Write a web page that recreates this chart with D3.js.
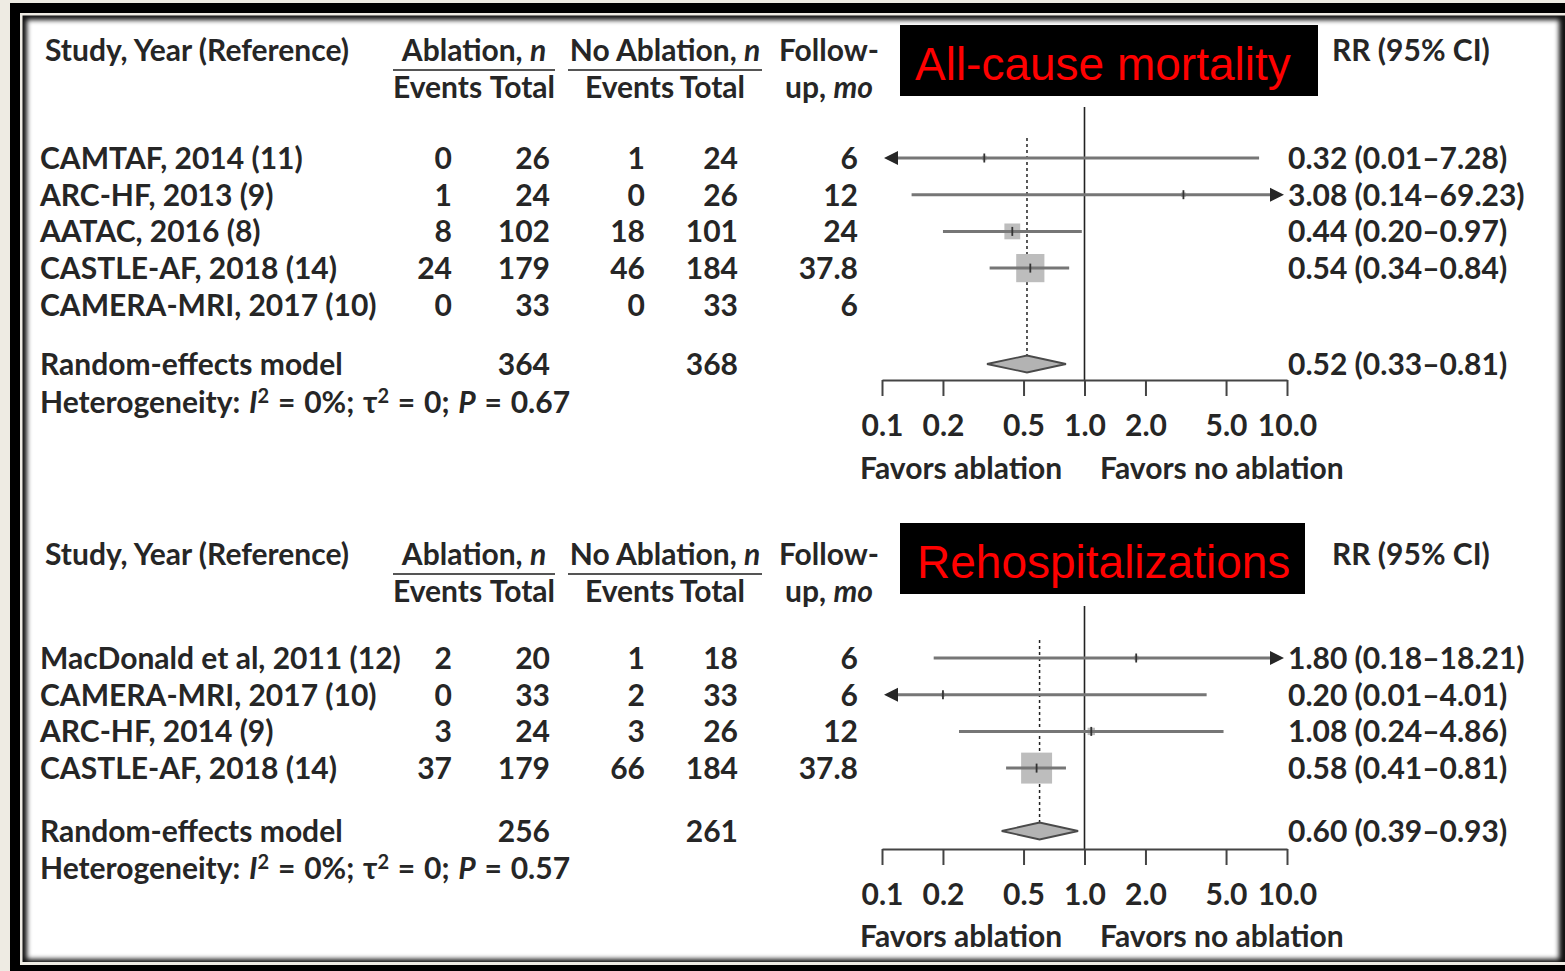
<!DOCTYPE html>
<html><head><meta charset="utf-8">
<script src="https://cdn.jsdelivr.net/npm/d3@7"></script>
<style>html,body{margin:0;padding:0;background:#eeebe3;overflow:hidden}</style>
</head><body><svg id="c" width="1565" height="971"></svg>
<script>
// ---------- DATA ----------
const ticks = [0.1, 0.2, 0.5, 1, 2, 5, 10];

// Panel 1: All-cause mortality
const mortTitle = "All-cause mortality";
const mortStudies = ["CAMTAF, 2014 (11)", "ARC-HF, 2013 (9)", "AATAC, 2016 (8)", "CASTLE-AF, 2018 (14)", "CAMERA-MRI, 2017 (10)"];
const mortAblEvents = [0, 1, 8, 24, 0];
const mortAblTotal = [26, 24, 102, 179, 33];
const mortNoEvents = [1, 0, 18, 46, 0];
const mortNoTotal = [24, 26, 101, 184, 33];
const mortFollow = ["6", "12", "24", "37.8", "6"];
const mortRR = [0.32, 3.08, 0.44, 0.54, null];
const mortLow = [0.01, 0.14, 0.20, 0.34, null];
const mortHigh = [7.28, 69.23, 0.97, 0.84, null];
const mortWeight = [2, 2, 23, 73, 0];
const mortSummary = {rr: 0.52, low: 0.33, high: 0.81, ablTotal: 364, noTotal: 368, i2: "0%", tau2: "0", p: "0.67"};

// Panel 2: Rehospitalizations
const rehTitle = "Rehospitalizations";
const rehStudies = ["MacDonald et al, 2011 (12)", "CAMERA-MRI, 2017 (10)", "ARC-HF, 2014 (9)", "CASTLE-AF, 2018 (14)"];
const rehAblEvents = [2, 0, 3, 37];
const rehAblTotal = [20, 33, 24, 179];
const rehNoEvents = [1, 2, 3, 66];
const rehNoTotal = [18, 33, 26, 184];
const rehFollow = ["6", "6", "12", "37.8"];
const rehRR = [1.80, 0.20, 1.08, 0.58];
const rehLow = [0.18, 0.01, 0.24, 0.41];
const rehHigh = [18.21, 4.01, 4.86, 0.81];
const rehWeight = [2, 1.5, 5, 88];
const rehSummary = {rr: 0.60, low: 0.39, high: 0.93, ablTotal: 256, noTotal: 261, i2: "0%", tau2: "0", p: "0.57"};

// ---------- DRAW ----------
const svg = d3.select("#c");
const FONT = "Lato, 'Open Sans', sans-serif";
const TXT = "#262626";
const FS = 30;

// frame
const defs = svg.append("defs");
defs.append("filter").attr("id", "soft").attr("x", "-5%").attr("y", "-5%").attr("width", "110%").attr("height", "110%")
  .append("feGaussianBlur").attr("stdDeviation", 2.6);
svg.append("rect").attr("x", 0).attr("y", 0).attr("width", 1565).attr("height", 971).attr("fill", "#eeebe3");
svg.append("rect").attr("x", 10).attr("y", 3).attr("width", 1600).attr("height", 1000).attr("fill", "#000");
svg.append("rect").attr("x", 20).attr("y", 13).attr("width", 1600).attr("height", 952).attr("fill", "#eeebe3");
svg.append("rect").attr("x", 22.5).attr("y", 15.5).attr("width", 1600).attr("height", 946.5).attr("fill", "#111");
svg.append("rect").attr("x", 27).attr("y", 20).attr("width", 1532).attr("height", 939).attr("fill", "#fff").attr("filter", "url(#soft)");

const x = d3.scaleLog().domain([0.1, 10]).range([882, 1287]);
const f2 = d3.format(".2f");
const rrLabel = (r, l, h) => `${f2(r)} (${f2(l)}\u2013${f2(h)})`;

function text(g, str, xx, yy, anchor) {
  return g.append("text").attr("x", xx).attr("y", yy).attr("text-anchor", anchor || "start")
    .attr("font-family", FONT).attr("font-weight", 700).attr("font-size", FS).attr("fill", TXT).text(str);
}

function panel(cfg) {
  const g = svg.append("g");
  const B = 10.8; // centre -> baseline
  // headers
  text(g, "Study, Year (Reference)", 45, cfg.h1 + B);
  const ab = text(g, "Ablation, ", 474, cfg.h1 + B, "middle");
  ab.append("tspan").attr("font-style", "italic").text("n");
  const nab = text(g, "No Ablation, ", 665, cfg.h1 + B, "middle");
  nab.append("tspan").attr("font-style", "italic").text("n");
  text(g, "Follow-", 829, cfg.h1 + B, "middle");
  text(g, "RR (95% CI)", 1332, cfg.h1 + B);
  g.append("line").attr("x1", 393).attr("x2", 555).attr("y1", cfg.h1 + 20).attr("y2", cfg.h1 + 20).attr("stroke", "#555").attr("stroke-width", 2);
  g.append("line").attr("x1", 568).attr("x2", 762).attr("y1", cfg.h1 + 20).attr("y2", cfg.h1 + 20).attr("stroke", "#555").attr("stroke-width", 2);
  text(g, "Events", 393, cfg.h2 + B);
  text(g, "Total", 555, cfg.h2 + B, "end");
  text(g, "Events", 585, cfg.h2 + B);
  text(g, "Total", 745, cfg.h2 + B, "end");
  const up = text(g, "up, ", 829, cfg.h2 + B, "middle");
  up.append("tspan").attr("font-style", "italic").text("mo");

  // title box
  g.append("rect").attr("x", 900).attr("y", cfg.boxY).attr("width", cfg.boxW).attr("height", 71).attr("fill", "#000");
  g.append("text").attr("x", cfg.titleX).attr("y", cfg.boxY + 55).attr("font-family", "'Liberation Sans', Arial, sans-serif")
    .attr("font-size", 46).attr("fill", "#ff0000").text(cfg.title);

  const n = cfg.studies.length;
  const rowY = i => cfg.r0 + i * 36.7;

  // reference lines
  g.append("line").attr("x1", x(1)).attr("x2", x(1)).attr("y1", cfg.vTop).attr("y2", cfg.axisY).attr("stroke", "#222").attr("stroke-width", 1.6);
  g.append("line").attr("x1", x(cfg.sum.rr)).attr("x2", x(cfg.sum.rr)).attr("y1", cfg.dTop).attr("y2", cfg.sumY - 8).attr("stroke", "#222").attr("stroke-width", 1.5).attr("stroke-dasharray", "3,3");

  for (let i = 0; i < n; i++) {
    const y = rowY(i);
    text(g, cfg.studies[i], 40, y + B);
    text(g, cfg.ablE[i], 452, y + B, "end");
    text(g, cfg.ablT[i], 550, y + B, "end");
    text(g, cfg.noE[i], 645, y + B, "end");
    text(g, cfg.noT[i], 738, y + B, "end");
    text(g, cfg.follow[i], 858, y + B, "end");
    const rr = cfg.rr[i];
    if (rr == null) continue;
    const lo = Math.max(cfg.low[i], 0.1), hi = Math.min(cfg.high[i], 10);
    const s = 3.3 * Math.sqrt(cfg.w[i]);
    g.append("rect").attr("x", x(rr) - s / 2).attr("y", y - s / 2).attr("width", s).attr("height", s).attr("fill", "#bdbdbd");
    g.append("line").attr("x1", x(lo) + (cfg.low[i] < 0.1 ? 8 : 0)).attr("x2", x(hi) - (cfg.high[i] > 10 ? 8 : 0))
      .attr("y1", y).attr("y2", y).attr("stroke", "#767676").attr("stroke-width", 3);
    g.append("line").attr("x1", x(rr)).attr("x2", x(rr)).attr("y1", y - 4.5).attr("y2", y + 4.5).attr("stroke", "#333").attr("stroke-width", 1.8);
    if (cfg.low[i] < 0.1) {
      const t = x(0.1) + 2;
      g.append("path").attr("d", `M${t},${y}L${t + 14},${y - 7}L${t + 14},${y + 7}Z`).attr("fill", "#262626");
    }
    if (cfg.high[i] > 10) {
      const t = x(10) - 3;
      g.append("path").attr("d", `M${t},${y}L${t - 14},${y - 7}L${t - 14},${y + 7}Z`).attr("fill", "#262626");
    }
    text(g, rrLabel(rr, cfg.low[i], cfg.high[i]), 1288, y + B);
  }

  // summary
  const sy = cfg.sumY, S = cfg.sum;
  text(g, "Random-effects model", 40, sy + B);
  text(g, S.ablTotal, 550, sy + B, "end");
  text(g, S.noTotal, 738, sy + B, "end");
  g.append("path").attr("d", `M${x(S.low)},${sy}L${x(S.rr)},${sy - 8.5}L${x(S.high)},${sy}L${x(S.rr)},${sy + 8.5}Z`)
    .attr("fill", "#b3b3b3").attr("stroke", "#4a4a4a").attr("stroke-width", 1.8);
  text(g, rrLabel(S.rr, S.low, S.high), 1288, sy + B);

  const het = text(g, "Heterogeneity: ", 40, cfg.hetY + B).attr("word-spacing", 1.5);
  het.append("tspan").attr("font-style", "italic").text("I");
  het.append("tspan").attr("font-size", 20).attr("dy", -10).text("2");
  het.append("tspan").attr("dy", 10).text(` = ${S.i2}; \u03c4`);
  het.append("tspan").attr("font-size", 20).attr("dy", -10).text("2");
  het.append("tspan").attr("dy", 10).text(` = ${S.tau2}; `);
  het.append("tspan").attr("font-style", "italic").text("P");
  het.append("tspan").text(` = ${S.p}`);

  // axis
  const ax = g.append("g").attr("transform", `translate(0,${cfg.axisY})`)
    .call(d3.axisBottom(x).tickValues(ticks).tickFormat(d3.format(".1f")).tickSize(16).tickSizeOuter(0).tickPadding(19));
  ax.select(".domain").attr("stroke", "#444").attr("stroke-width", 2);
  ax.selectAll(".tick line").attr("stroke", "#444").attr("stroke-width", 2);
  ax.selectAll(".tick text").attr("font-family", FONT).attr("font-weight", 700).attr("font-size", FS).attr("fill", TXT);
  text(g, "Favors ablation", 860, cfg.favY + B);
  text(g, "Favors no ablation", 1100, cfg.favY + B);
}

panel({title: mortTitle, studies: mortStudies, ablE: mortAblEvents, ablT: mortAblTotal, noE: mortNoEvents, noT: mortNoTotal,
  follow: mortFollow, rr: mortRR, low: mortLow, high: mortHigh, w: mortWeight, sum: mortSummary,
  h1: 50, h2: 87, boxY: 25, boxW: 418, titleX: 915, r0: 158, sumY: 364, hetY: 402, axisY: 380, vTop: 107, dTop: 138, favY: 468});
panel({title: rehTitle, studies: rehStudies, ablE: rehAblEvents, ablT: rehAblTotal, noE: rehNoEvents, noT: rehNoTotal,
  follow: rehFollow, rr: rehRR, low: rehLow, high: rehHigh, w: rehWeight, sum: rehSummary,
  h1: 554, h2: 591, boxY: 523, boxW: 405, titleX: 917, r0: 658, sumY: 831, hetY: 868, axisY: 849, vTop: 606, dTop: 640, favY: 936});
</script>
</body></html>
